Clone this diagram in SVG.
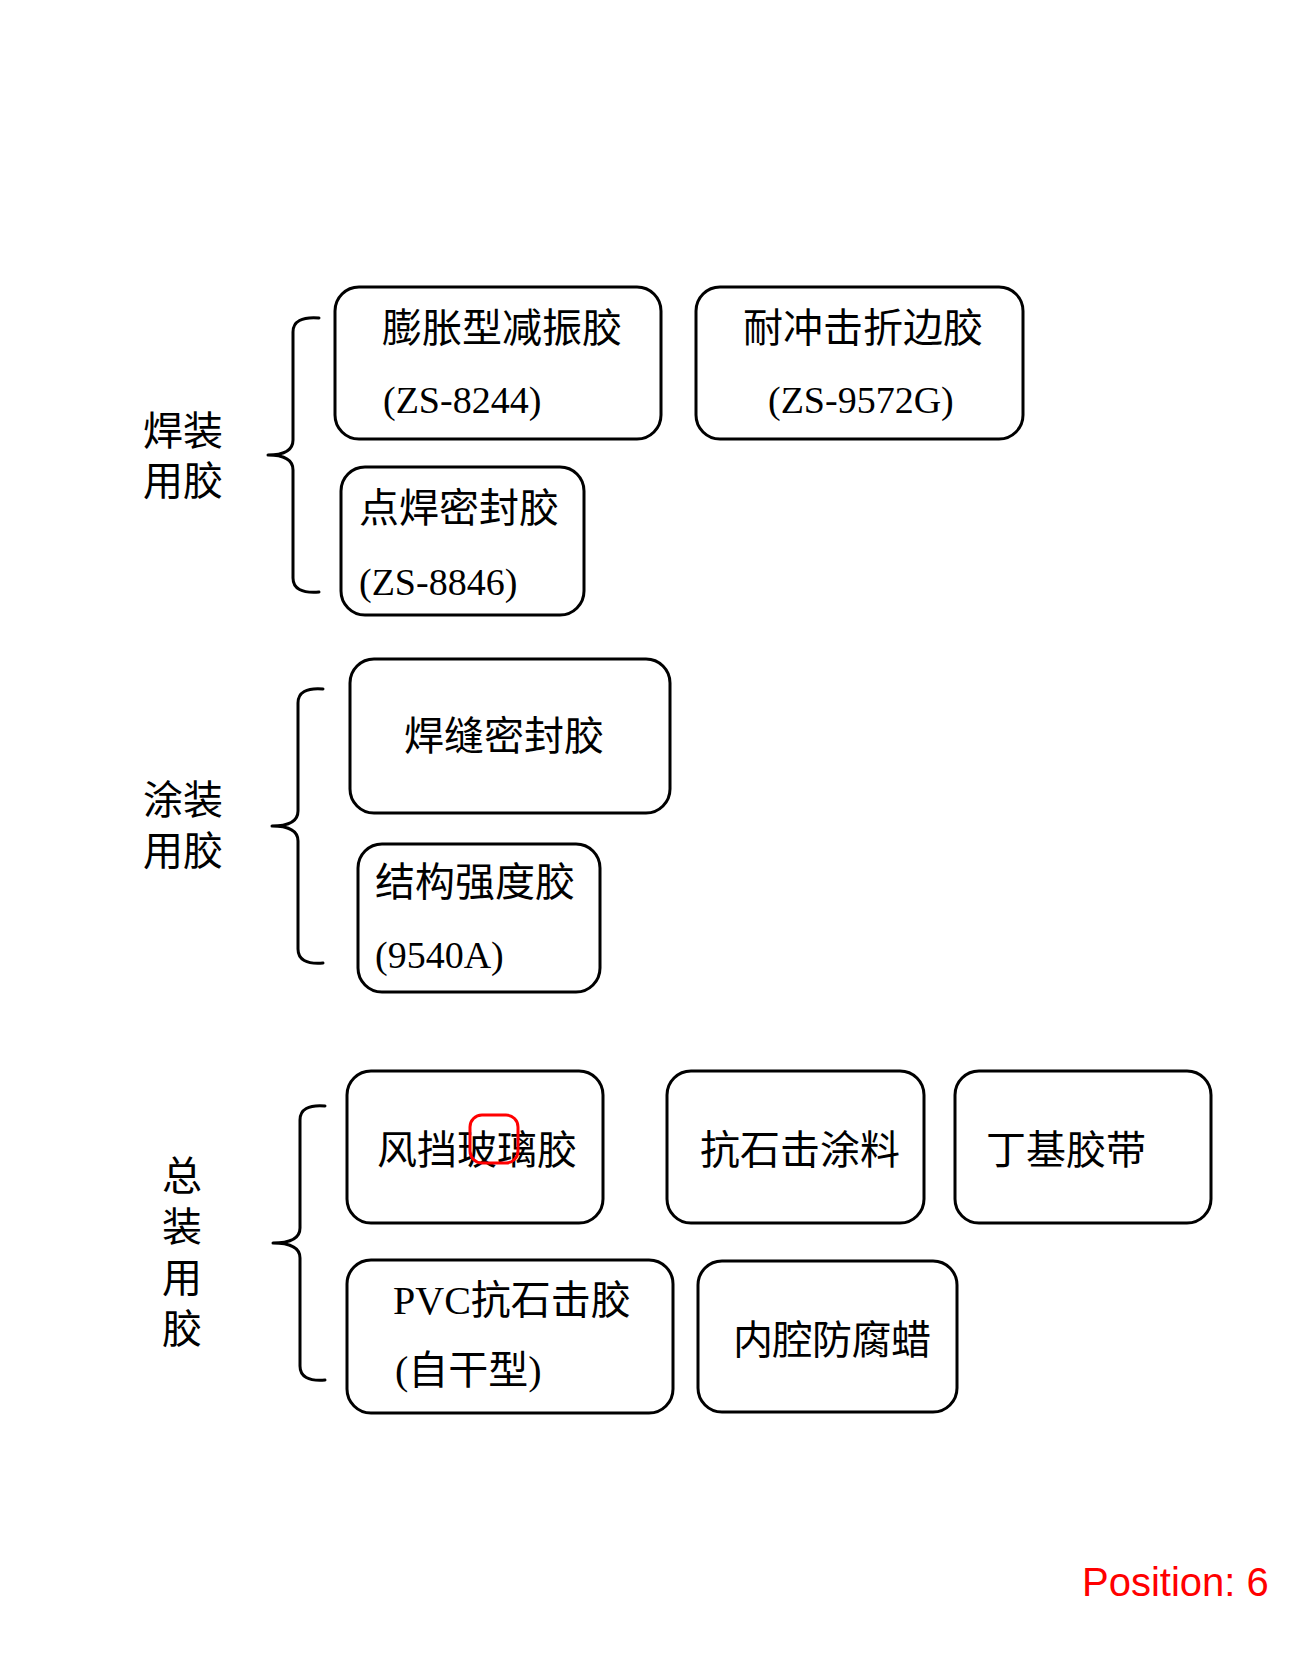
<svg xmlns="http://www.w3.org/2000/svg" width="1300" height="1664" viewBox="0 0 1300 1664">
<style>
.box{fill:#fff;stroke:#000;stroke-width:3}
.br{fill:none;stroke:#000;stroke-width:3;stroke-linecap:round;stroke-linejoin:round}
.t{font-family:"Liberation Serif","Noto Sans CJK SC",serif;font-size:40px;fill:#000}
.c{font-family:"Liberation Serif","Noto Sans CJK SC",serif;font-size:38px;fill:#000}
.lb{font-family:"Noto Sans CJK SC",sans-serif;font-size:40px;fill:#000}
.l2{font-family:"Liberation Sans","Noto Sans CJK SC",sans-serif;font-size:40px;fill:#000}
</style>
<rect width="1300" height="1664" fill="#fff"/>
<g id="connectors">
<path class="br" d="M319,318 Q293,316 293,332 V440 Q293,455 268,455 Q293,455 293,470 V578 Q293,594 319,592"/>
<path class="br" d="M323,689 Q298,687 298,703 V811 Q298,826 272,826 Q298,826 298,841 V949 Q298,965 323,963"/>
<path class="br" d="M325,1106 Q300,1104 300,1120 V1228 Q300,1243 273,1243 Q300,1243 300,1258 V1366 Q300,1382 325,1380"/>
</g>
<g id="label-welding">
<text class="l2" x="143" y="445">焊装</text>
<text class="l2" x="143" y="495">用胶</text>
</g>
<g id="label-painting">
<text class="l2" x="143" y="814">涂装</text>
<text class="l2" x="143" y="865">用胶</text>
</g>
<g id="label-assembly">
<text class="lb" x="182" y="1155" writing-mode="vertical-rl" letter-spacing="11">总装用胶</text>
</g>
<g id="node-1">
<rect class="box" x="335" y="287" width="326" height="152" rx="24"/>
<text class="t" x="382" y="342">膨胀型减振胶</text>
<text class="c" x="383" y="413">(ZS-8244)</text>
</g>
<g id="node-2">
<rect class="box" x="696" y="287" width="327" height="152" rx="24"/>
<text class="t" x="743" y="342">耐冲击折边胶</text>
<text class="c" x="768" y="413">(ZS-9572G)</text>
</g>
<g id="node-3">
<rect class="box" x="341" y="467" width="243" height="148" rx="24"/>
<text class="t" x="359" y="522">点焊密封胶</text>
<text class="c" x="359" y="595">(ZS-8846)</text>
</g>
<g id="node-4">
<rect class="box" x="350" y="659" width="320" height="154" rx="24"/>
<text class="t" x="404" y="750">焊缝密封胶</text>
</g>
<g id="node-5">
<rect class="box" x="358" y="844" width="242" height="148" rx="24"/>
<text class="t" x="375" y="896">结构强度胶</text>
<text class="c" x="375" y="968">(9540A)</text>
</g>
<g id="node-6">
<rect class="box" x="347" y="1071" width="256" height="152" rx="24"/>
<text class="t" x="377" y="1164">风挡玻璃胶</text>
<rect x="470" y="1115" width="48" height="48" rx="12" fill="none" stroke="#ff0000" stroke-width="3"/>
</g>
<g id="node-7">
<rect class="box" x="667" y="1071" width="257" height="152" rx="24"/>
<text class="t" x="700" y="1164">抗石击涂料</text>
</g>
<g id="node-8">
<rect class="box" x="955" y="1071" width="256" height="152" rx="24"/>
<text class="t" x="986" y="1164">丁基胶带</text>
</g>
<g id="node-9">
<rect class="box" x="347" y="1260" width="326" height="153" rx="24"/>
<text class="t" x="393" y="1314">PVC抗石击胶</text>
<text class="t" x="395" y="1384">(自干型)</text>
</g>
<g id="node-10">
<rect class="box" x="698" y="1261" width="259" height="151" rx="24"/>
<text class="t" x="733" y="1354" textLength="198">内腔防腐蜡</text>
</g>
<text x="1082" y="1596" font-family="Liberation Sans, Arial, sans-serif" font-size="40" fill="#ff0000">Position: 6</text>
</svg>
